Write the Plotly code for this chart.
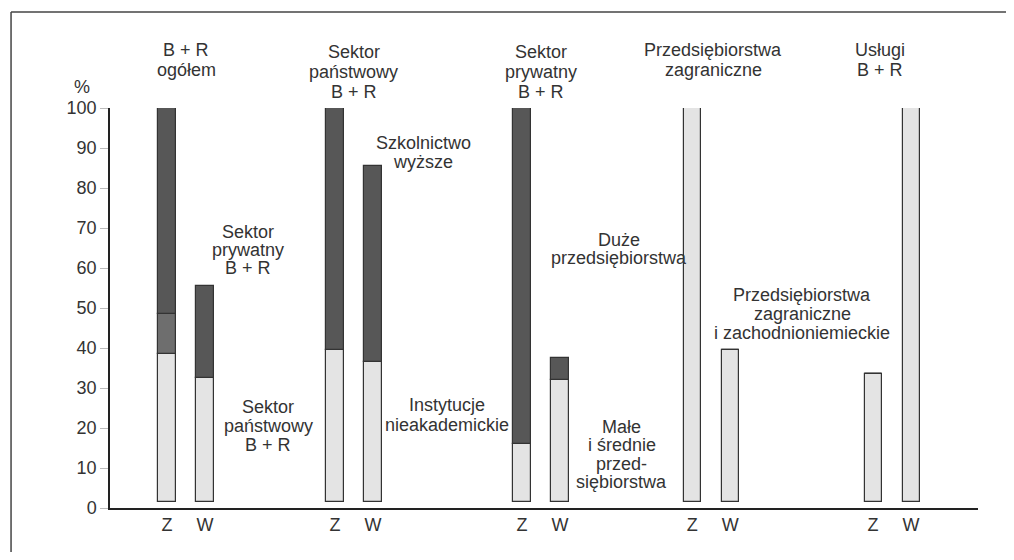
import plotly.graph_objects as go

# groups of bars (Z / W), values in %
GROUPS = ['B + R ogółem', 'Sektor państwowy B + R', 'Sektor prywatny B + R',
          'Przedsiębiorstwa zagraniczne', 'Usługi B + R']
BAR_LABELS = ['Z', 'W']

# tops of the segments
Z_LIGHT = [38.5, 39.5, 16.0, 100.0, 33.5]
Z_MID = [48.5, 39.5, 16.0, 100.0, 33.5]
Z_TOTAL = [100.0, 100.0, 100.0, 100.0, 33.5]
W_LIGHT = [32.5, 36.5, 32.0, 39.5, 100.0]
W_TOTAL = [55.5, 85.5, 37.5, 39.5, 100.0]

Y_TICKS = [0, 10, 20, 30, 40, 50, 60, 70, 80, 90, 100]

# layout helpers
GROUP_X = [2.0, 6.42, 11.34, 15.82, 20.58]
X_MAX = 22.84
Y_MAX = 100
HALF_GAP = 0.5
FLOOR = 1.5
BAR_W = 0.45

FONT = 'Liberation Sans, Arial, sans-serif'
TXT = '#333333'
LIGHT = '#e4e4e4'
MID = '#6e6e6e'
DARK = '#575757'
EDGE = '#333333'

z_x = [g - HALF_GAP for g in GROUP_X]
w_x = [g + HALF_GAP for g in GROUP_X]

fig = go.Figure()


def add_segment(xs, lo, hi, color):
    fig.add_trace(go.Bar(
        x=xs, y=[h - l for l, h in zip(lo, hi)], base=lo, width=BAR_W,
        marker=dict(color=color, line=dict(color=EDGE, width=1.2)),
        showlegend=False, hoverinfo='skip'))


floor = [FLOOR] * len(GROUPS)
add_segment(z_x, floor, Z_LIGHT, LIGHT)
add_segment(z_x, Z_LIGHT, Z_MID, MID)
add_segment(z_x, Z_MID, Z_TOTAL, DARK)
add_segment(w_x, floor, W_LIGHT, LIGHT)
add_segment(w_x, W_LIGHT, W_TOTAL, DARK)


def add_label(lines, x, y_top, step=4.75):
    # positions given in axis units, placed in paper coords so nothing is hidden
    for i, line in enumerate(lines):
        fig.add_annotation(x=x / X_MAX, y=(y_top - i * step) / Y_MAX, text=line,
                           showarrow=False, xref='paper', yref='paper',
                           xanchor='center', yanchor='middle',
                           font=dict(family=FONT, size=18, color=TXT))


# group titles
add_label(['B + R', 'ogółem'], 2.0, 114.5, 5)
add_label(['Sektor', 'państwowy', 'B + R'], 6.42, 114.0, 5)
add_label(['Sektor', 'prywatny', 'B + R'], 11.34, 114.0, 5)
add_label(['Przedsiębiorstwa', 'zagraniczne'], 15.87, 114.5, 5)
add_label(['Usługi', 'B + R'], 20.26, 114.5, 5)
add_label(['%'], -0.74, 105.3)

# segment labels
add_label(['Sektor', 'prywatny', 'B + R'], 3.63, 69.0, 4.5)
add_label(['Sektor', 'państwowy', 'B + R'], 4.16, 25.25, 4.75)
add_label(['Szkolnictwo', 'wyższe'], 8.24, 91.25)
add_label(['Duże', 'przedsiębiorstwa'], 13.39, 67.0, 4.5)
add_label(['Instytucje', 'nieakademickie'], 8.87, 25.75, 5)
add_label(['Małe', 'i średnie', 'przed-', 'siębiorstwa'], 13.47, 20.25, 4.6)
add_label(['Przedsiębiorstwa', 'zagraniczne', 'i zachodnioniemieckie'], 18.21, 53.25, 4.75)

# frame of the page: only the left and top sides are visible
frame = dict(color='#444444', width=1.5)
fig.add_shape(type='line', xref='paper', yref='paper',
              x0=-0.114, x1=-0.114, y0=-0.2, y1=1.24, line=frame)
fig.add_shape(type='line', xref='paper', yref='paper',
              x0=-0.114, x1=1.1, y0=1.24, y1=1.24, line=frame)

# the page body adds an 8px margin, so the figure is kept small enough
# to fit the window without scrollbars
fig.update_layout(
    width=998, height=544,
    margin=dict(l=102, r=28, t=100, b=44),
    paper_bgcolor='white', plot_bgcolor='white',
    barmode='overlay', bargap=0,
    font=dict(family=FONT, size=18, color=TXT),
    xaxis=dict(range=[0, X_MAX], showgrid=False, zeroline=False,
               showline=True, linecolor='#222222', linewidth=1.5,
               tickvals=[v for pair in zip(z_x, w_x) for v in pair],
               ticktext=BAR_LABELS * len(GROUPS), ticks='',
               ticklabelstandoff=0),
    yaxis=dict(range=[0, Y_MAX], showgrid=False, zeroline=False,
               showline=True, linecolor='#222222', linewidth=1.5,
               tickvals=Y_TICKS, ticks='outside', ticklen=8,
               tickcolor='#bbbbbb', tickwidth=1),
)

fig.write_html('out.html')
